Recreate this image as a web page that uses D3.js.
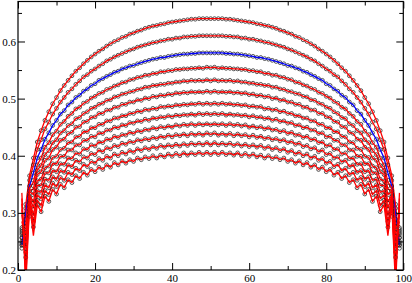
<!DOCTYPE html>
<html><head><meta charset="utf-8">
<script src="https://cdn.jsdelivr.net/npm/d3@7"></script>
<style>html,body{margin:0;padding:0;background:#fff;}svg{display:block}</style>
</head><body>
<script>
const xTicks=[0,20,40,60,80,100];
const xMinor=[10,30,50,70,90];
const yTicks=[0.2,0.3,0.4,0.5,0.6];
const yMinor=[0.25,0.35,0.45,0.55,0.65];
const xs=d3.range(1,100);

const s0=[.238,.315,.365,.396,.424,.444,.462,.477,.491,.502,.514,.523,.532,.540,.548,.554,.561,.567,.573,.578,.583,.587,.592,.596,.600,.603,.607,.609,.613,.615,.618,.620,.623,.625,.627,.628,.630,.631,.633,.634,.635,.636,.637,.638,.639,.639,.640,.640,.640,.640,
.640,.640,.640,.639,.639,.638,.637,.636,.635,.634,.633,.631,.630,.628,.627,.625,.623,.620,.618,.615,.613,.609,.607,.603,.600,.596,.592,.587,.583,.578,.573,.567,.561,.554,.548,.540,.532,.523,.514,.502,.491,.477,.462,.444,.424,.396,.365,.315,.238];
const s1=[.243,.308,.357,.384,.411,.428,.447,.459,.473,.483,.494,.502,.511,.517,.525,.531,.538,.542,.548,.552,.557,.561,.566,.569,.573,.576,.579,.582,.585,.587,.590,.592,.594,.596,.598,.599,.601,.602,.604,.604,.606,.606,.608,.608,.609,.609,.610,.610,.610,.610,
.610,.610,.610,.609,.609,.608,.608,.606,.606,.604,.604,.602,.601,.599,.598,.596,.594,.592,.590,.587,.585,.582,.579,.576,.573,.569,.566,.561,.557,.552,.548,.542,.538,.531,.525,.517,.511,.502,.494,.483,.473,.459,.447,.428,.411,.384,.357,.308,.243];
const s2=[.244,.298,.347,.370,.396,.411,.429,.440,.453,.462,.473,.479,.489,.494,.502,.506,.513,.517,.523,.526,.532,.535,.539,.542,.546,.548,.552,.554,.557,.558,.561,.563,.565,.567,.569,.570,.572,.572,.574,.575,.576,.577,.578,.578,.579,.579,.580,.580,.580,.580,
.580,.580,.580,.579,.579,.578,.578,.577,.576,.575,.574,.572,.572,.570,.569,.567,.565,.563,.561,.558,.557,.554,.552,.548,.546,.542,.539,.535,.532,.526,.523,.517,.513,.506,.502,.494,.489,.479,.473,.462,.453,.440,.429,.411,.396,.370,.347,.298,.244];
const s3=[.247,.289,.339,.357,.384,.396,.415,.423,.437,.443,.455,.460,.469,.474,.482,.485,.492,.495,.501,.504,.509,.511,.516,.518,.522,.524,.528,.529,.533,.534,.537,.538,.541,.541,.544,.544,.547,.547,.549,.549,.551,.551,.552,.552,.553,.553,.554,.553,.555,.554,
.555,.553,.554,.553,.553,.552,.552,.551,.551,.549,.549,.547,.547,.544,.544,.541,.541,.538,.537,.534,.533,.529,.528,.524,.522,.518,.516,.511,.509,.504,.501,.495,.492,.485,.482,.474,.469,.460,.455,.443,.437,.423,.415,.396,.384,.357,.339,.289,.247];
const s4=[.250,.282,.333,.347,.375,.383,.402,.409,.423,.428,.440,.444,.453,.456,.465,.467,.474,.477,.483,.485,.490,.492,.497,.498,.503,.504,.508,.509,.512,.513,.516,.517,.520,.520,.523,.523,.525,.525,.527,.527,.529,.529,.531,.530,.532,.531,.532,.531,.533,.531,
.533,.531,.532,.531,.532,.530,.531,.529,.529,.527,.527,.525,.525,.523,.523,.520,.520,.517,.516,.513,.512,.509,.508,.504,.503,.498,.497,.492,.490,.485,.483,.477,.474,.467,.465,.456,.453,.444,.440,.428,.423,.409,.402,.383,.375,.347,.333,.282,.250];
const s5=[.256,.276,.329,.338,.367,.372,.392,.396,.411,.415,.427,.429,.439,.441,.450,.451,.459,.460,.467,.468,.474,.474,.480,.480,.485,.485,.490,.490,.494,.494,.498,.497,.501,.500,.504,.503,.506,.505,.508,.507,.510,.509,.511,.510,.512,.511,.512,.511,.513,.511,
.513,.511,.512,.511,.512,.510,.511,.509,.510,.507,.508,.505,.506,.503,.504,.500,.501,.497,.498,.494,.494,.490,.490,.485,.485,.480,.480,.474,.474,.468,.467,.460,.459,.451,.450,.441,.439,.429,.427,.415,.411,.396,.392,.372,.367,.338,.329,.276,.256];
const s6=[.257,.266,.321,.326,.356,.359,.379,.382,.397,.399,.411,.413,.423,.424,.433,.434,.442,.442,.449,.449,.455,.455,.461,.461,.466,.466,.470,.470,.474,.474,.478,.477,.481,.480,.483,.482,.486,.485,.487,.486,.489,.488,.490,.489,.491,.490,.492,.490,.492,.490,
.492,.490,.492,.490,.491,.489,.490,.488,.489,.486,.487,.485,.486,.482,.483,.480,.481,.477,.478,.474,.474,.470,.470,.466,.466,.461,.461,.455,.455,.449,.449,.442,.442,.434,.433,.424,.423,.413,.411,.399,.397,.382,.379,.359,.356,.326,.321,.266,.257];
const s7=[.262,.259,.317,.317,.348,.348,.370,.370,.386,.386,.399,.399,.410,.410,.419,.419,.427,.427,.434,.433,.440,.439,.445,.445,.450,.449,.454,.453,.458,.457,.461,.460,.464,.462,.466,.465,.468,.467,.470,.468,.471,.470,.472,.471,.473,.471,.474,.472,.474,.472,
.474,.472,.474,.471,.473,.471,.472,.470,.471,.468,.470,.467,.468,.465,.466,.462,.464,.460,.461,.457,.458,.453,.454,.449,.450,.445,.445,.439,.440,.433,.434,.427,.427,.419,.419,.410,.410,.399,.399,.386,.386,.370,.370,.348,.348,.317,.317,.259,.262];
const s8=[.265,.249,.311,.306,.339,.336,.359,.357,.374,.372,.386,.385,.396,.395,.405,.403,.412,.411,.419,.417,.424,.423,.429,.428,.434,.432,.437,.436,.441,.439,.444,.442,.446,.445,.449,.447,.451,.449,.452,.450,.454,.452,.455,.453,.456,.453,.456,.454,.456,.454,
.456,.454,.456,.453,.456,.453,.455,.452,.454,.450,.452,.449,.451,.447,.449,.445,.446,.442,.444,.439,.441,.436,.437,.432,.434,.428,.429,.423,.424,.417,.419,.411,.412,.403,.405,.395,.396,.385,.386,.372,.374,.357,.359,.336,.339,.306,.311,.249,.265];
const s9=[.268,.240,.305,.295,.331,.325,.349,.344,.363,.359,.374,.371,.384,.381,.392,.389,.398,.396,.404,.402,.410,.407,.414,.412,.418,.416,.422,.420,.425,.423,.428,.426,.430,.428,.432,.430,.434,.432,.436,.433,.437,.435,.438,.435,.439,.436,.439,.436,.440,.437,
.440,.436,.439,.436,.439,.435,.438,.435,.437,.433,.436,.432,.434,.430,.432,.428,.430,.426,.428,.423,.425,.420,.422,.416,.418,.412,.414,.407,.410,.402,.404,.396,.398,.389,.392,.381,.384,.371,.374,.359,.363,.344,.349,.325,.331,.295,.305,.240,.268];
const s10=[.271,.231,.300,.285,.322,.313,.339,.332,.352,.346,.362,.357,.371,.367,.378,.374,.385,.381,.390,.387,.395,.392,.399,.396,.403,.400,.406,.403,.409,.406,.412,.409,.414,.411,.416,.413,.418,.415,.419,.416,.420,.417,.421,.418,.422,.419,.422,.419,.423,.419,
.423,.419,.422,.419,.422,.418,.421,.417,.420,.416,.419,.415,.418,.413,.416,.411,.414,.409,.412,.406,.409,.403,.406,.400,.403,.396,.399,.392,.395,.387,.390,.381,.385,.374,.378,.367,.371,.357,.362,.346,.352,.332,.339,.313,.322,.285,.300,.231,.271];
const s11=[.274,.222,.294,.275,.314,.302,.329,.320,.341,.333,.350,.344,.358,.353,.365,.360,.371,.366,.376,.372,.380,.376,.384,.380,.388,.384,.391,.387,.393,.390,.396,.393,.398,.395,.400,.396,.401,.398,.403,.399,.404,.400,.405,.401,.405,.402,.406,.402,.406,.402,
.406,.402,.406,.402,.405,.401,.405,.400,.404,.399,.403,.398,.401,.396,.400,.395,.398,.393,.396,.390,.393,.387,.391,.384,.388,.380,.384,.376,.380,.372,.376,.366,.371,.360,.365,.353,.358,.344,.350,.333,.341,.320,.329,.302,.314,.275,.294,.222,.274];

// red fitted curves differ from the open circles only at the first / last four sites
const redLeft=[[.242,.313,.366,.395],[.249,.305,.359,.383],[.253,.294,.350,.368],[.261,.282,.344,.354],
[.269,.272,.339,.342],[.279,.264,.337,.332],[.285,.252,.331,.319],[.297,.238,.329,.308],
[.306,.215,.324,.295],[.316,.200,.321,.283],[.325,.185,.318,.271],[.335,.170,.314,.260]];
const redRight=[[.395,.366,.313,.242],[.383,.359,.305,.249],[.368,.350,.294,.253],[.354,.344,.282,.261],
[.342,.339,.272,.269],[.332,.337,.264,.279],[.319,.331,.252,.285],[.308,.329,.238,.297],
[.295,.324,.215,.306],[.283,.321,.200,.316],[.271,.318,.185,.325],[.260,.314,.170,.335]];

const series=[s0,s1,s2,s3,s4,s5,s6,s7,s8,s9,s10,s11];
const lineColors=["#ff0000","#ff0000","#0000ff","#ff0000","#ff0000","#ff0000","#ff0000","#ff0000","#ff0000","#ff0000","#ff0000","#ff0000"];
series.forEach((s,i)=>{ if(s.length!==99) throw new Error("series "+i+" has "+s.length); });

const W=412,H=283;
const L=18,R=403.3,T=1.5,B=270;
const x=d3.scaleLinear().domain([0,100]).range([L,R]);
const y=d3.scaleLinear().domain([0.2,0.67]).range([B,T]);

const svg=d3.select("body").append("svg").attr("width",W).attr("height",H);
svg.append("rect").attr("width",W).attr("height",H).attr("fill","#fff");
svg.append("clipPath").attr("id","clip").append("rect")
  .attr("x",L).attr("y",T).attr("width",R-L).attr("height",B-T);

const g=svg.append("g").attr("clip-path","url(#clip)");
const line=d3.line().x(d=>x(d[0])).y(d=>y(d[1]));

series.forEach((s,i)=>{
  const pts=s.map((v,j)=>[xs[j],v]);
  const red=s.map((v,j)=>{
    let val=v;
    if(j<4) val=redLeft[i][j];
    else if(j>=95) val=redRight[i][j-95];
    return [xs[j],val];
  });
  g.append("g").selectAll("circle").data(pts).join("circle")
    .attr("cx",d=>x(d[0])).attr("cy",d=>y(d[1])).attr("r",1.9)
    .attr("fill","none").attr("stroke","#222").attr("stroke-width",0.75);
  g.append("path").datum(i===2?pts:red).attr("d",line)
    .attr("fill","none").attr("stroke",lineColors[i]).attr("stroke-width",1.3);
});

const font="'Liberation Serif','DejaVu Serif','Times New Roman',serif";
function style(sel){
  sel.attr("font-family",null).attr("font-size",null);
  sel.select(".domain").remove();
  sel.selectAll("line").attr("stroke","#000").attr("stroke-width",1);
  sel.selectAll("text").style("font-family",font).style("font-size","11px").attr("fill","#000");
}
svg.append("g").attr("transform",`translate(0,${B})`)
  .call(d3.axisBottom(x).tickValues(xTicks).tickSize(-7).tickPadding(4).tickFormat(d3.format("d"))).call(style);
svg.append("g").attr("transform",`translate(0,${B})`)
  .call(d3.axisBottom(x).tickValues(xMinor).tickSize(-4).tickFormat("")).call(style);
svg.append("g").attr("transform",`translate(0,${T})`)
  .call(d3.axisTop(x).tickValues(xTicks).tickSize(-7).tickFormat("")).call(style);
svg.append("g").attr("transform",`translate(0,${T})`)
  .call(d3.axisTop(x).tickValues(xMinor).tickSize(-4).tickFormat("")).call(style);
svg.append("g").attr("transform",`translate(${L},0)`)
  .call(d3.axisLeft(y).tickValues(yTicks).tickSize(-7).tickPadding(2).tickFormat(d3.format(".1f"))).call(style);
svg.append("g").attr("transform",`translate(${L},0)`)
  .call(d3.axisLeft(y).tickValues(yMinor).tickSize(-4).tickFormat("")).call(style);
svg.append("g").attr("transform",`translate(${R},0)`)
  .call(d3.axisRight(y).tickValues(yTicks).tickSize(-7).tickFormat("")).call(style);
svg.append("g").attr("transform",`translate(${R},0)`)
  .call(d3.axisRight(y).tickValues(yMinor).tickSize(-4).tickFormat("")).call(style);

svg.append("rect").attr("x",L).attr("y",T).attr("width",R-L).attr("height",B-T)
  .attr("fill","none").attr("stroke","#000").attr("stroke-width",1.2);
</script>
</body></html>
